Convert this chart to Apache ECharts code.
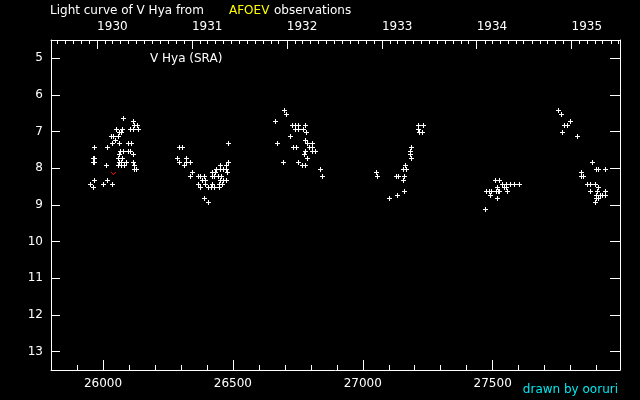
<!DOCTYPE html>
<html>
<head>
<meta charset="utf-8">
<script src="https://cdn.jsdelivr.net/npm/echarts@6/dist/echarts.min.js"></script>
<style>html,body{margin:0;padding:0;background:#000}#c{width:640px;height:400px}</style>
</head>
<body>
<div id="c"></div>
<script>
// ---- data (JD - 2400000, visual magnitude) ----
const obsJD = [
 26078,26117,26121,26133,26051,26074,26105,26117,26136,26063,26071,26033,26041,26059,26047,26036,26063,26098,26110,25967,
 26017,26067,26078,26098,26105,26063,26117,25962,25969,26059,26074,25962,25969,26063,26071,26090,26117,26013,26059,26071,
 26083,26121,26121,26128,25967,26017,25951,26001,26036,25963,
 26295,26306,26482,26286,26321,26294,26321,26336,26313,26482,26452,26475,26436,26452,26463,26475,26344,26423,26434,26479,
 26336,26367,26375,26390,26421,26429,26446,26457,26384,26396,26452,26463,26475,26367,26394,26421,26450,26461,26375,26405,
 26419,26430,26448,26390,26405,
 26698,26706,26663,26729,26741,26753,26779,26741,26753,26771,26783,26721,26671,26779,26786,26806,26733,26744,26795,26806,
 26806,26818,26779,26775,26786,26694,26752,26767,26778,26836,26844,
 27214,27233,27214,27218,27230,27187,27183,27183,27187,27164,27156,27167,27052,27056,27129,27137,27160,27156,27160,27133,27102,
 27510,27525,27537,27552,27568,27583,27602,27518,27545,27555,27478,27487,27494,27513,27521,27525,27556,27491,27518,27472,
 27752,27764,27799,27775,27787,27768,27826,27883,27899,27906,27933,27841,27841,27849,27865,27876,27895,27906,27876,27903,
 27933,27899,27914,27922,27933,27899,27906,27895
];
const obsMag = [
 6.64,6.72,6.83,6.83,6.94,6.94,6.94,6.94,6.94,7.02,7.02,7.13,7.13,7.13,7.24,7.32,7.32,7.32,7.32,7.43,
 7.43,7.54,7.54,7.54,7.54,7.62,7.62,7.73,7.73,7.73,7.73,7.84,7.84,7.84,7.84,7.84,7.84,7.92,7.92,7.92,
 7.92,7.92,8.03,8.03,8.33,8.33,8.44,8.44,8.44,8.52,
 7.43,7.43,7.32,7.73,7.73,7.84,7.84,7.84,7.92,7.84,7.92,7.92,8.03,8.03,8.03,8.03,8.11,8.11,8.11,8.11,
 8.22,8.22,8.22,8.22,8.22,8.22,8.22,8.22,8.33,8.33,8.33,8.33,8.33,8.44,8.44,8.44,8.44,8.44,8.52,8.52,
 8.52,8.52,8.52,8.82,8.93,
 6.42,6.53,6.72,6.83,6.83,6.83,6.83,6.94,6.94,6.94,7.02,7.13,7.32,7.24,7.32,7.32,7.43,7.43,7.43,7.43,
 7.54,7.54,7.54,7.62,7.73,7.84,7.84,7.92,7.92,8.03,8.22,
 6.83,6.83,6.94,7.02,7.02,7.43,7.54,7.62,7.73,7.92,8.03,8.03,8.11,8.22,8.22,8.22,8.22,8.33,8.63,8.74,8.82,
 8.33,8.33,8.44,8.44,8.44,8.44,8.44,8.52,8.52,8.52,8.63,8.63,8.63,8.63,8.63,8.63,8.63,8.74,8.82,9.12,
 6.42,6.53,6.72,6.83,6.83,7.02,7.13,7.84,8.03,8.03,8.03,8.11,8.22,8.22,8.44,8.44,8.44,8.52,8.63,8.63,
 8.63,8.74,8.74,8.74,8.74,8.82,8.82,8.93
];
// "fainter than" observation (red)
const limitJD = [26040];
const limitMag = [8.15];

// ---- axes / tick labels ----
const magTicks = [5,6,7,8,9,10,11,12,13];
const jdLabelTicks = [26000,26500,27000,27500];
const jdMinorTicks = [25900,26000,26100,26200,26300,26400,26500,26600,26700,26800,26900,27000,27100,27200,27300,27400,27500,27600,27700,27800,27900];
const yearStartJD = [25977.5,26342.5,26707.5,27073.5,27438.5,27803.5];
const yearLabels = ['1930','1931','1932','1933','1934','1935'];
const monthStartDay = [0,31,59,90,120,151,181,212,243,273,304,334];
const xMin = 25800, xMax = 27990, yMin = 4.5, yMax = 13.5;

// month ticks (calendar): years 1929..1935
const yearStarts = [25612.5].concat(yearStartJD);
const leap = [false,false,false,true,false,false,false];
const monthTicks = [];
yearStarts.forEach((ys,i)=>{
  monthStartDay.forEach((d,m)=>{
    const v = ys + d + (leap[i] && m>=2 ? 1 : 0);
    if (v > xMin && v < xMax && m !== 0) monthTicks.push(v);
  });
});

const FONT = '"DejaVu Sans"';
const white = '#ffffff';
const lineStyle = {color: white, width: 1};

const chart = echarts.init(document.getElementById('c'), null, {renderer:'canvas'});
const pts = obsJD.map((x,i)=>[x, obsMag[i]]);
const lim = limitJD.map((x,i)=>[x, limitMag[i]]);

function px(rects, color){
  return rects.map(r=>({type:'rect', shape:{x:r[0], y:r[1], width:r[2], height:r[3]}, style:{fill:color}}));
}
function renderCross(params, api){
  const p = api.coord([api.value(0), api.value(1)]);
  const cx = Math.floor(p[0]), cy = Math.floor(p[1]);
  return {type:'group', children: px([[cx, cy-2, 1, 5],[cx-2, cy, 5, 1]], white)};
}
function renderV(params, api){
  const p = api.coord([api.value(0), api.value(1)]);
  const cx = Math.floor(p[0]), cy = Math.floor(p[1]);
  return {type:'group', children: px([[cx-2,cy-1,1,1],[cx+2,cy-1,1,1],[cx-1,cy,1,1],[cx+1,cy,1,1],[cx,cy+1,1,1]], '#ff0000')};
}

chart.setOption({
  backgroundColor: '#000',
  animation: false,
  grid: {left: 51, right: 20, top: 40, bottom: 30, containLabel: false},
  xAxis: [
    { type:'value', position:'bottom', min:xMin, max:xMax,
      axisLine:{show:true, onZero:false, lineStyle},
      axisTick:{show:true, inside:true, length:10, customValues: jdLabelTicks, lineStyle},
      axisLabel:{show:true, customValues: jdLabelTicks, color:white, fontFamily:FONT, fontSize:12, margin:8,
        formatter: v => String(v)},
      splitLine:{show:false} },
    { type:'value', position:'bottom', min:xMin, max:xMax,
      axisLine:{show:false, onZero:false},
      axisTick:{show:true, inside:true, length:5, customValues: jdMinorTicks, lineStyle},
      axisLabel:{show:false}, splitLine:{show:false} },
    { type:'value', position:'top', min:xMin, max:xMax,
      axisLine:{show:true, onZero:false, lineStyle},
      axisTick:{show:true, inside:true, length:9, customValues: yearStartJD, lineStyle},
      axisLabel:{show:true, customValues: yearStartJD, color:white, fontFamily:FONT, fontSize:12, margin:7, align:'left',
        formatter: v => { const k = yearStartJD.findIndex(y=>Math.abs(y-v)<0.6); return k>=0 ? yearLabels[k] : ''; } },
      splitLine:{show:false} },
    { type:'value', position:'top', min:xMin, max:xMax,
      axisLine:{show:false, onZero:false},
      axisTick:{show:true, inside:true, length:4, customValues: monthTicks, lineStyle},
      axisLabel:{show:false}, splitLine:{show:false} }
  ],
  yAxis: [
    { type:'value', position:'left', min:yMin, max:yMax, inverse:true,
      axisLine:{show:true, onZero:false, lineStyle},
      axisTick:{show:true, inside:true, length:9, customValues: magTicks, lineStyle},
      axisLabel:{show:true, customValues: magTicks, color:white, fontFamily:FONT, fontSize:12, margin:8},
      splitLine:{show:false} },
    { type:'value', position:'right', min:yMin, max:yMax, inverse:true,
      axisLine:{show:true, onZero:false, lineStyle},
      axisTick:{show:true, inside:true, length:10, customValues: magTicks, lineStyle},
      axisLabel:{show:false}, splitLine:{show:false} }
  ],
  graphic: [
    {type:'text', left:50, top:5, style:{text:'Light curve of V Hya from', fill:white, font:'12px '+FONT}},
    {type:'text', left:229, top:5, style:{text:'AFOEV', fill:'#ffff00', font:'12px '+FONT}},
    {type:'text', left:274, top:5, style:{text:'observations', fill:white, font:'12px '+FONT}},
    {type:'text', left:150, top:53, style:{text:'V Hya (SRA)', fill:white, font:'12px '+FONT}},
    {type:'text', right:22, top:384, style:{text:'drawn by ooruri', fill:'#00e8f0', font:'12px '+FONT}}
  ],
  series: [
    { type:'custom', xAxisIndex:0, yAxisIndex:0, data: pts, silent:true, renderItem: renderCross,
      encode:{x:0, y:1} },
    { type:'custom', xAxisIndex:0, yAxisIndex:0, data: lim, silent:true, renderItem: renderV,
      encode:{x:0, y:1} }
  ]
});
</script>
</body>
</html>
